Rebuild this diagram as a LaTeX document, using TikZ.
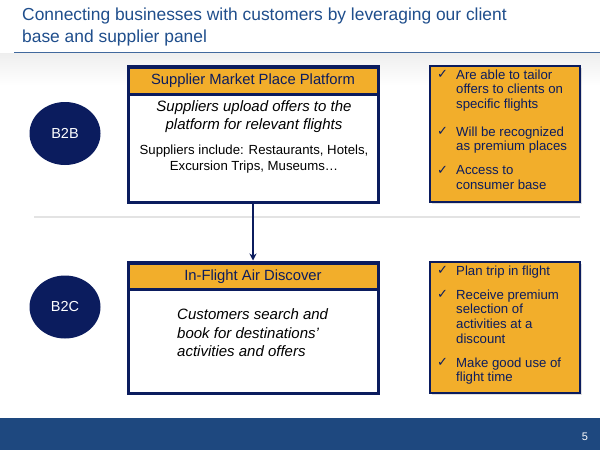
\documentclass[tikz,border=0pt]{standalone}
\usepackage{fontspec}
\setmainfont{Liberation Sans}
\newfontfamily\symfont{DejaVu Sans}
\usetikzlibrary{shadows,arrows.meta,shapes.geometric}
\definecolor{navy}{HTML}{0B1C5E}
\definecolor{titleblue}{HTML}{1F4E8C}
\definecolor{orangeY}{HTML}{F2AE2B}
\definecolor{barblue}{HTML}{1E487F}
\tikzset{
  mainbox/.style={draw=navy, line width=3pt, fill=white, drop shadow={opacity=0.25, shadow xshift=1.5pt, shadow yshift=-1.5pt}},
  headbox/.style={draw=navy, line width=3pt, fill=orangeY, text=navy, font=\fontsize{14.8}{17}\selectfont},
  sidebox/.style={draw=navy, line width=1.3pt, fill=orangeY, drop shadow={opacity=0.25, shadow xshift=1.5pt, shadow yshift=-1.5pt}},
  sidetext/.style={anchor=north west, inner sep=0, text=navy, font=\fontsize{13.2}{14.6}\selectfont, align=left},
  chk/.style={anchor=north west, inner sep=0, text=navy, font=\symfont\fontsize{13}{14}\selectfont},
  circ/.style={ellipse, fill=navy, minimum width=71pt, minimum height=63pt, text=white, font=\fontsize{14.5}{16}\selectfont, inner sep=0},
}
\begin{document}
\begin{tikzpicture}[x=1pt,y=-1pt]
\useasboundingbox (0,0) rectangle (600,450);
\fill[white] (0,0) rectangle (600,450);
\shade[top color=gray!13, bottom color=white] (0,53) rectangle (600,85);
\draw[titleblue!85, line width=1.3pt] (14,52.5) -- (600,52.5);
\node[anchor=north west, text=titleblue, font=\fontsize{17.4}{22}\selectfont, align=left, inner sep=0] (title) at (22,7.5) {Connecting businesses with customers by leveraging our client\\base and supplier panel};
\fill[barblue] (0,418) rectangle (600,450);
\node[white, font=\fontsize{11}{13}\selectfont] (pg) at (585,437) {5};
\draw[gray!22, line width=1.5pt] (34,217) -- (580,217);

% circles
\node[circ] (b2b) at (65,133.5) {B2B};
\node[circ] (b2c) at (65,307) {B2C};

% top main box
\node[mainbox, minimum width=250pt, minimum height=136pt, inner sep=0] (box1) at (253,134) {};
\node[headbox, minimum width=250pt, minimum height=27pt, inner sep=0] (head1) at (253,81) {Supplier Market Place Platform};
\node[inner sep=0, align=center, font=\itshape\fontsize{15}{18}\selectfont] (t1a) at (254,117) {Suppliers upload offers to the\\platform for relevant flights};
\node[inner sep=0, align=center, font=\fontsize{13.2}{16}\selectfont] (t1b) at (254,159) {Suppliers include: Restaurants, Hotels,\\Excursion Trips, Museums\ldots};

% bottom main box
\node[mainbox, minimum width=250pt, minimum height=131pt, inner sep=0] (box2) at (253,327.5) {};
\node[headbox, minimum width=250pt, minimum height=26pt, inner sep=0] (head2) at (253,276.5) {In-Flight Air Discover};
\node[anchor=north west, inner sep=0, align=left, font=\itshape\fontsize{15}{18.5}\selectfont] (t2) at (177,308.5) {Customers search and\\book for destinations'\\activities and offers};

\draw[navy, line width=1.8pt, -{Stealth[length=7pt,width=7pt]}] (box1.south) -- (box2.north);

% right boxes
\node[sidebox, minimum width=150pt, minimum height=136pt, inner sep=0] (side1) at (505,134) {};
\node[sidebox, minimum width=150pt, minimum height=131pt, inner sep=0] (side2) at (505,327.5) {};

\node[chk] (c1) at (437,70) {✓};
\node[sidetext] (s1) at (456,69.5) {Are able to tailor\\offers to clients on\\specific flights};
\node[chk] (c2) at (437,127) {✓};
\node[sidetext] (s2) at (456,126.5) {Will be recognized\\as premium places};
\node[chk] (c3) at (437,166) {✓};
\node[sidetext] (s3) at (456,165.5) {Access to\\consumer base};

\node[chk] (c4) at (437,266) {✓};
\node[sidetext] (s4) at (456,265.5) {Plan trip in flight};
\node[chk] (c5) at (437,290) {✓};
\node[sidetext] (s5) at (456,289.5) {Receive premium\\selection of\\activities at a\\discount};
\node[chk] (c6) at (437,358) {✓};
\node[sidetext] (s6) at (456,357.5) {Make good use of\\flight time};
\end{tikzpicture}
\end{document}
